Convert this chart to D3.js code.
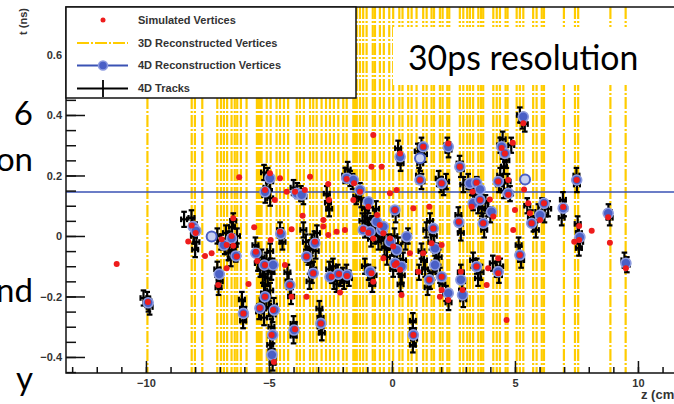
<!DOCTYPE html>
<html>
<head>
<meta charset="utf-8">
<script src="https://cdn.jsdelivr.net/npm/d3@7"></script>
<style>
  body { margin: 0; background: #fff; }
  svg { display: block; }
</style>
</head>
<body>
<svg width="674" height="404"></svg>
<script>
// --- data ------------------------------------------------------
// z (cm) of the 3D reconstructed vertices (vertical lines)
var reco3DZ = [-9.94, -8.14, -8.01, -7.71, -7.10, -6.95, -6.83, -6.70, -6.52, -6.39,
  -6.29, -6.14, -5.91, -5.49, -5.41, -5.35, -5.30, -5.09, -4.93, -4.69, -4.55, -4.39, -4.22,
  -3.87, -3.74, -3.58, -3.33, -3.20, -3.06, -2.86, -2.68, -2.52, -2.36, -2.18, -1.98,
  -1.84, -1.57, -1.50, -1.43, -1.30, -1.17, -1.03, -0.78, -0.69, -0.49, -0.33, -0.11, 0.05,
  0.30, 0.43, 0.66, 0.80, 1.00, 1.27, 1.41, 1.61, 1.71, 1.95, 2.06, 2.25, 2.33, 2.76,
  2.90, 3.06, 3.17, 3.30, 3.51, 3.62, 3.71, 4.12, 4.26, 4.39, 4.62, 4.70, 5.07, 5.20,
  5.34, 5.74, 5.88, 6.09, 6.18, 6.99, 7.44, 7.57, 8.88, 9.50];

// simulated vertices [z (cm), t (ns)]
var simVertices = [[-11.19, -0.093], [-9.92, -0.218], [-8.14, 0.035], [-7.98, 0.010],
  [-8.28, -0.018], [-7.60, -0.066], [-7.33, -0.057], [-6.92, -0.011], [-6.52, 0.000],
  [-6.45, -0.032], [-6.31, -0.068], [-6.72, -0.030], [-6.45, 0.059], [-7.06, -0.162],
  [-6.72, -0.107], [-6.04, -0.256], [-5.83, -0.159], [-6.21, 0.194], [-5.60, 0.029],
  [-5.53, -0.052], [-5.16, -0.096], [-5.16, -0.201], [-5.37, -0.238], [-4.83, -0.245],
  [-4.89, -0.327], [-5.48, -0.083], [-4.93, -0.013], [-4.96, 0.207], [-4.55, 0.191],
  [-5.16, 0.152], [-4.76, 0.119], [-4.55, 0.014], [-4.08, 0.022], [-4.35, -0.096],
  [-4.15, -0.162], [-4.08, -0.201], [-3.94, -0.308], [-3.94, 0.146], [-3.54, 0.152],
  [-4.28, 0.146], [-3.33, 0.196], [-3.63, 0.067], [-3.47, -0.068], [-3.13, -0.019],
  [-3.20, -0.123], [-2.79, 0.053], [-2.79, 0.031], [-2.59, 0.003], [-3.47, -0.201],
  [-2.89, -0.289], [-2.56, 0.119], [-2.59, 0.172], [-2.25, 0.014], [-1.91, 0.020],
  [-2.45, -0.135], [-2.15, -0.126], [-1.83, -0.132], [-2.11, -0.187], [-1.84, 0.188],
  [-1.54, 0.174], [-1.57, 0.119], [-0.83, 0.229], [-1.30, 0.146], [-0.96, 0.097],
  [-1.17, 0.022], [-0.96, 0.011], [-0.60, 0.069], [-0.49, 0.036], [-0.76, -0.008],
  [-0.08, -0.008], [-0.35, -0.074], [0.19, -0.090], [-0.08, 0.141], [-0.83, -0.123],
  [-0.76, -0.151], [-0.76, 0.334], [-0.42, 0.229], [0.33, 0.273], [1.27, 0.295],
  [1.14, 0.185], [2.29, 0.306], [2.76, 0.229], [2.02, 0.174], [0.19, 0.152],
  [3.44, 0.176], [3.28, 0.146], [3.24, 0.097], [3.58, 0.119], [3.98, 0.121],
  [4.12, 0.064], [4.46, 0.291], [4.59, 0.273], [4.32, 0.180], [4.73, 0.185],
  [4.73, 0.136], [4.91, 0.308], [5.34, 0.373], [5.37, 0.154], [5.61, 0.075],
  [5.68, 0.042], [6.18, 0.108], [6.02, 0.053], [5.00, 0.086], [5.54, 0.108],
  [6.96, 0.096], [7.51, 0.185], [7.61, 0.033], [7.61, -0.013], [7.41, -0.019],
  [8.12, 0.017], [8.79, 0.062], [8.86, -0.022], [9.51, -0.107], [-0.35, 0.009],
  [0.05, -0.035], [0.12, 0.086], [0.12, -0.096], [0.33, -0.112], [0.73, -0.057],
  [0.39, -0.195], [0.87, 0.092], [1.68, 0.025], [1.61, -0.024], [1.27, -0.057],
  [2.02, -0.030], [1.07, -0.118], [2.02, -0.135], [1.52, -0.145], [2.02, -0.179],
  [2.29, -0.212], [1.95, -0.201], [1.52, 0.097], [2.72, 0.047], [2.80, -0.118],
  [2.87, -0.179], [3.44, -0.101], [3.85, -0.162], [3.91, -0.107], [4.32, -0.123],
  [4.32, -0.074], [5.20, -0.063], [4.93, 0.020], [4.66, -0.278], [0.87, -0.327],
  [3.71, 0.042], [-4.80, -0.417]];

// 4D reconstructed vertices [z, t]
var reco4D = [[-9.91, -0.221], [-8.08, 0.031], [-7.97, 0.017], [-6.83, -0.030],
  [-6.52, -0.008], [-6.34, -0.066], [-7.02, -0.126], [-6.04, -0.256], [-5.53, -0.057],
  [-5.19, -0.096], [-4.83, -0.096], [-5.16, -0.201], [-5.37, -0.239], [-4.78, -0.245],
  [-4.85, -0.327], [-4.88, -0.393], [-4.96, 0.191], [-5.16, 0.146], [-4.52, 0.007],
  [-4.15, -0.162], [-3.98, -0.311], [-3.87, 0.141], [-3.67, 0.136], [-3.47, -0.068],
  [-3.20, -0.123], [-3.13, -0.024], [-2.89, -0.289], [-2.52, -0.135], [-2.18, -0.126],
  [-1.82, -0.129], [-1.84, 0.191], [-1.57, 0.185], [-1.30, 0.152], [-0.96, 0.113],
  [-1.17, 0.020], [-0.89, 0.014], [-0.62, 0.047], [-0.42, 0.020], [0.19, -0.046],
  [-0.89, -0.118], [0.33, 0.262], [1.27, 0.295], [1.14, 0.185], [2.29, 0.295],
  [2.76, 0.229], [2.02, 0.174], [3.17, 0.174], [3.44, 0.176], [3.58, 0.154],
  [3.30, 0.108], [3.58, 0.119], [4.05, 0.080], [4.46, 0.295], [4.59, 0.273],
  [4.32, 0.180], [4.73, 0.141], [5.34, 0.394], [5.68, 0.042], [6.18, 0.108],
  [6.02, 0.069], [6.96, 0.092], [7.51, 0.185], [7.64, -0.004], [8.79, 0.075],
  [9.51, -0.090], [-0.35, 0.031], [0.12, 0.086], [-0.08, -0.019], [0.12, -0.090],
  [0.60, -0.002], [0.39, -0.101], [1.68, 0.025], [1.75, -0.041], [1.75, -0.096],
  [2.02, -0.135], [1.52, -0.145], [2.29, -0.189], [2.72, 0.045], [2.80, -0.145],
  [2.87, -0.195], [3.44, -0.101], [4.32, -0.118], [5.20, -0.063], [0.87, -0.327],
  [3.71, 0.042]];
// the few drawn as open (pale) circles
var reco4DOpen = [[-7.33, -0.002], [1.14, 0.257], [5.41, 0.187]];

// 4D tracks [z, t]
var tracks = [[-10.1, -0.205], [-9.95, -0.21], [-9.9, -0.225], [-9.85, -0.235],
  [-8.45, 0.055], [-8.15, 0.06], [-8.1, 0.035], [-8.0, 0.02], [-8.05, 0.0], [-7.95, -0.02], [-8.0, -0.045],
  [-7.1, 0.0], [-6.95, -0.02], [-6.8, -0.035], [-6.75, 0.01], [-6.6, -0.01], [-6.5, 0.03], [-6.45, 0.05],
  [-6.4, -0.03], [-6.35, -0.06], [-6.5, -0.045], [-6.65, -0.055], [-6.3, 0.0], [-6.55, -0.075],
  [-7.1, -0.11], [-7.05, -0.13], [-7.0, -0.15], [-7.05, -0.17],
  [-6.1, -0.21], [-6.05, -0.24], [-6.0, -0.26], [-6.05, -0.28],
  [-5.55, -0.03], [-5.5, -0.06], [-5.45, -0.09], [-5.3, -0.07], [-5.2, -0.1], [-5.1, -0.08], [-4.95, -0.05],
  [-4.85, -0.1], [-4.9, -0.12], [-5.25, -0.13], [-5.15, -0.16], [-5.2, -0.19], [-5.1, -0.21], [-5.3, -0.23],
  [-5.4, -0.25], [-5.0, -0.24], [-4.8, -0.23], [-4.85, -0.26], [-5.2, -0.27], [-4.9, -0.3], [-4.85, -0.33],
  [-5.35, -0.11], [-5.05, -0.14], [-4.95, -0.18], [-5.25, -0.21],
  [-4.95, -0.36], [-4.9, -0.38], [-4.85, -0.40], [-4.85, -0.42],
  [-5.2, 0.21], [-5.05, 0.2], [-4.95, 0.18], [-5.1, 0.16], [-5.15, 0.135], [-4.95, 0.125],
  [-4.55, 0.02], [-4.5, 0.0], [-4.45, -0.02],
  [-4.25, -0.12], [-4.2, -0.15], [-4.15, -0.17], [-4.1, -0.2],
  [-4.0, -0.29], [-3.95, -0.31], [-4.0, -0.33],
  [-4.0, 0.16], [-3.85, 0.15], [-3.7, 0.14], [-3.6, 0.13],
  [-3.6, 0.02], [-3.5, -0.02], [-3.45, -0.06], [-3.35, -0.04], [-3.25, -0.02], [-3.15, -0.01], [-3.05, 0.01],
  [-3.3, -0.09], [-3.2, -0.11], [-3.25, -0.13], [-3.35, -0.15], [-3.4, -0.07], [-3.1, -0.05],
  [-2.95, -0.24], [-2.9, -0.27], [-2.9, -0.3], [-2.85, -0.32],
  [-2.65, 0.14], [-2.6, 0.11], [-2.55, 0.09],
  [-2.55, -0.11], [-2.45, -0.13], [-2.35, -0.15], [-2.2, -0.12], [-2.1, -0.14], [-2.0, -0.13],
  [-1.85, -0.12], [-1.75, -0.14], [-2.25, -0.16], [-2.4, -0.1], [-1.95, -0.15],
  [-1.9, 0.2], [-1.8, 0.22], [-1.7, 0.19], [-1.6, 0.18],
  [-1.45, 0.13], [-1.3, 0.15], [-1.25, 0.12], [-1.1, 0.09], [-0.95, 0.1], [-1.2, 0.05], [-1.1, 0.02],
  [-0.95, 0.03], [-0.8, 0.04], [-0.7, 0.06], [-0.6, 0.03], [-0.5, 0.01], [-0.4, 0.02], [-0.3, -0.01],
  [-0.85, -0.01], [-0.7, 0.0], [-1.0, 0.06], [-0.65, 0.09], [-0.55, -0.02],
  [-1.1, -0.1], [-0.95, -0.12], [-0.85, -0.14], [-0.75, -0.13], [-0.8, -0.16],
  [-0.3, -0.04], [-0.15, -0.02], [0.0, -0.04], [0.1, 0.0], [0.15, 0.07], [0.2, -0.06], [0.1, -0.09],
  [0.3, -0.1], [0.45, -0.08], [0.55, -0.02], [0.65, 0.0], [0.4, -0.13], [0.35, -0.16],
  [-0.2, -0.07], [0.25, -0.03], [0.05, -0.11],
  [0.25, 0.29], [0.3, 0.26], [0.35, 0.24],
  [1.05, 0.28], [1.2, 0.3], [1.3, 0.27], [1.15, 0.24], [1.1, 0.2], [1.2, 0.18],
  [2.25, 0.3], [2.3, 0.285], [2.75, 0.24], [2.8, 0.22],
  [1.9, 0.19], [2.0, 0.17], [2.1, 0.16], [2.2, 0.18],
  [2.9, 0.17], [3.1, 0.18], [3.25, 0.16], [3.35, 0.14], [3.45, 0.17], [3.55, 0.15], [3.3, 0.11],
  [3.5, 0.1], [3.65, 0.12], [3.8, 0.11], [3.9, 0.09], [4.0, 0.07],
  [4.4, 0.3], [4.5, 0.28], [4.6, 0.27], [4.65, 0.25], [4.55, 0.23], [4.4, 0.2], [4.35, 0.17],
  [4.55, 0.15], [4.7, 0.18], [4.8, 0.14], [4.85, 0.3], [4.5, 0.32],
  [5.2, 0.4], [5.3, 0.38], [5.4, 0.37],
  [5.5, 0.1], [5.65, 0.06], [5.75, 0.04], [5.95, 0.08], [6.1, 0.1], [6.2, 0.07], [6.35, 0.09], [5.85, 0.02],
  [6.95, 0.12], [7.0, 0.09], [6.9, 0.06],
  [7.5, 0.2], [7.52, 0.17],
  [7.55, 0.04], [7.6, 0.01], [7.65, -0.02], [7.6, -0.04],
  [8.8, 0.08], [8.85, 0.06], [9.45, -0.08], [9.55, -0.095],
  [1.2, -0.05], [1.3, -0.08], [1.4, 0.02], [1.55, 0.05], [1.6, -0.02], [1.7, 0.0], [1.8, -0.05],
  [1.75, -0.09], [1.65, -0.12], [1.55, -0.15], [1.95, -0.13], [2.05, -0.16], [2.2, -0.19],
  [2.3, -0.22], [1.45, -0.17], [1.1, -0.12], [1.35, -0.11], [1.9, -0.07],
  [2.7, 0.07], [2.75, 0.04], [2.8, 0.01],
  [2.8, -0.12], [2.85, -0.15], [2.85, -0.18], [2.9, -0.21],
  [3.3, -0.08], [3.45, -0.1], [3.6, -0.12], [3.5, -0.14],
  [4.1, -0.09], [4.25, -0.11], [4.4, -0.1], [4.35, -0.13],
  [5.15, -0.03], [5.2, -0.06], [5.25, -0.08],
  [0.85, -0.28], [0.85, -0.31], [0.9, -0.34], [0.85, -0.36],
  [3.65, 0.09], [3.7, 0.05], [3.75, 0.02]];

var tErr = 0.025, zErr = 0.12;       // track error bars
var fitLineT = 0.145;                // horizontal blue line
var xMajor = [-10, -5, 0, 5, 10];
var yMajor = [-0.4, -0.2, 0, 0.2, 0.4, 0.6];
var legendLabels = ["Simulated Vertices", "3D Reconstructed Vertices",
  "4D Reconstruction Vertices", "4D Tracks"];
var sideWords = [["6", 125], ["on", 171], ["nd", 302], ["y", 390]];

// --- drawing ----------------------------------------------------
var svg = d3.select("svg");
var padL = 66, padR = 681, padT = 7, padB = 373;

var x = d3.scaleLinear().domain([-13.25, 11.75]).range([padL, padR]);
var y = d3.scaleLinear().domain([-0.453, 0.757]).range([padB, padT]);

var yellow = "#ffcc00", blue = "#3a52b4", red = "#ee1c1c";
var helv = "Liberation Sans, Arial, sans-serif";

var plot = svg.append("g");

// 3D reconstructed vertices: dash-dot vertical lines
plot.selectAll(".v3d")
  .data(reco3DZ)
  .enter().append("line")
  .attr("x1", d => x(d)).attr("x2", d => x(d))
  .attr("y1", padT).attr("y2", padB)
  .attr("stroke", yellow).attr("stroke-width", 2.2)
  .attr("stroke-dasharray", "12,2,2,2");

plot.append("line")
  .attr("x1", padL).attr("x2", 674)
  .attr("y1", y(fitLineT)).attr("y2", y(fitLineT))
  .attr("stroke", blue).attr("stroke-width", 1.5);

// tracks: crosses with capped error bars
var tr = plot.selectAll(".trk").data(tracks).enter().append("g")
  .attr("stroke", "#000").attr("stroke-width", 2.2);
tr.append("line")
  .attr("x1", d => x(d[0])).attr("x2", d => x(d[0]))
  .attr("y1", d => y(d[1] + tErr)).attr("y2", d => y(d[1] - tErr));
tr.append("line")
  .attr("x1", d => x(d[0] - zErr)).attr("x2", d => x(d[0] + zErr))
  .attr("y1", d => y(d[1])).attr("y2", d => y(d[1]));
[1, -1].forEach(function(s) {
  tr.append("line")
    .attr("x1", d => x(d[0]) - 2.8).attr("x2", d => x(d[0]) + 2.8)
    .attr("y1", d => y(d[1] + s * tErr)).attr("y2", d => y(d[1] + s * tErr));
  tr.append("line")
    .attr("x1", d => x(d[0] + s * zErr)).attr("x2", d => x(d[0] + s * zErr))
    .attr("y1", d => y(d[1]) - 2.8).attr("y2", d => y(d[1]) + 2.8);
});

plot.selectAll(".r4d").data(reco4D).enter().append("circle")
  .attr("cx", d => x(d[0])).attr("cy", d => y(d[1])).attr("r", 5)
  .attr("fill", "#4a5fc6").attr("stroke", "#8d9be0").attr("stroke-width", 1.6);

plot.selectAll(".r4do").data(reco4DOpen).enter().append("circle")
  .attr("cx", d => x(d[0])).attr("cy", d => y(d[1])).attr("r", 5)
  .attr("fill", "#c8d0f0").attr("stroke", "#4a5fc6").attr("stroke-width", 2);

plot.selectAll(".sim").data(simVertices).enter().append("circle")
  .attr("cx", d => x(d[0])).attr("cy", d => y(d[1])).attr("r", 3)
  .attr("fill", red);

// axes (ticks inside the frame, ROOT style)
var axisFont = function(g) {
  g.selectAll("text").attr("font-family", helv)
    .attr("font-size", 11).attr("font-weight", "bold").attr("fill", "#333");
  g.select(".domain").remove();
  g.selectAll("line").attr("stroke", "#111").attr("stroke-width", 1.5);
};

svg.append("g").attr("transform", "translate(0," + padB + ")")
  .call(d3.axisBottom(x).tickValues(d3.range(-13, 12)).tickSize(-6).tickFormat(""))
  .call(axisFont);
svg.append("g").attr("transform", "translate(0," + padB + ")")
  .call(d3.axisBottom(x).tickValues(xMajor).tickSize(-12).tickPadding(6).tickFormat(d3.format("d")))
  .call(axisFont);
svg.append("g").attr("transform", "translate(" + padL + ",0)")
  .call(d3.axisLeft(y).tickValues(d3.range(-9, 16).map(i => i * 0.05)).tickSize(-10).tickFormat(""))
  .call(axisFont);
svg.append("g").attr("transform", "translate(" + padL + ",0)")
  .call(d3.axisLeft(y).tickValues(yMajor).tickSize(-19).tickPadding(4)
    .tickFormat(d => d === 0 ? "0" : d3.format(".1f")(d)))
  .call(axisFont);

// frame
svg.append("path")
  .attr("d", "M674," + padT + "H" + padL + "V" + padB + "H674")
  .attr("fill", "none").attr("stroke", "#111").attr("stroke-width", 1.5);

svg.append("text")
  .attr("x", 641).attr("y", 399)
  .attr("font-family", helv).attr("font-size", 13)
  .attr("font-weight", "bold").attr("fill", "#333")
  .text("z (cm)");
svg.append("text")
  .attr("transform", "translate(27,8) rotate(-90)").attr("text-anchor", "end")
  .attr("font-family", helv).attr("font-size", 11)
  .attr("font-weight", "bold").attr("fill", "#333")
  .text("t (ns)");

// legend
var lg = svg.append("g");
lg.append("rect").attr("x", padL).attr("y", padT).attr("width", 290).attr("height", 91)
  .attr("fill", "#fff").attr("stroke", "#111").attr("stroke-width", 1.5);
var rowY = [20, 43, 65.5, 88.5];
lg.selectAll("text").data(legendLabels).enter().append("text")
  .attr("x", 138).attr("y", (d, i) => rowY[i]).attr("dy", "0.35em")
  .attr("font-family", helv).attr("font-size", 11)
  .attr("font-weight", "bold").attr("fill", "#333")
  .text(d => d);
lg.append("circle").attr("cx", 103).attr("cy", rowY[0]).attr("r", 2.5).attr("fill", red);
lg.append("line").attr("x1", 77).attr("x2", 128).attr("y1", rowY[1]).attr("y2", rowY[1])
  .attr("stroke", yellow).attr("stroke-width", 2).attr("stroke-dasharray", "12,2,2,2");
lg.append("line").attr("x1", 77).attr("x2", 128).attr("y1", rowY[2]).attr("y2", rowY[2])
  .attr("stroke", blue).attr("stroke-width", 2);
lg.append("circle").attr("cx", 103).attr("cy", rowY[2]).attr("r", 4.5)
  .attr("fill", "#4a5fc6").attr("stroke", "#8d9be0").attr("stroke-width", 1.5);
lg.append("line").attr("x1", 77).attr("x2", 128).attr("y1", rowY[3]).attr("y2", rowY[3])
  .attr("stroke", "#000").attr("stroke-width", 1.8);
lg.append("line").attr("x1", 103).attr("x2", 103).attr("y1", 80).attr("y2", 97)
  .attr("stroke", "#000").attr("stroke-width", 1.8);

// slide overlay: label box and clipped words on the left
svg.append("rect").attr("x", 393).attr("y", 27).attr("width", 281).attr("height", 58)
  .attr("fill", "#fff");
svg.append("text").attr("x", 408).attr("y", 70)
  .attr("font-family", "Lato, 'Open Sans', sans-serif").attr("font-size", 33.8)
  .attr("fill", "#000").text("30ps resolution");
svg.selectAll(".side").data(sideWords).enter().append("text")
  .attr("x", 33).attr("y", d => d[1]).attr("text-anchor", "end")
  .attr("font-family", "Lato, 'Open Sans', sans-serif").attr("font-size", 33)
  .attr("fill", "#000").text(d => d[0]);
</script>
</body>
</html>
